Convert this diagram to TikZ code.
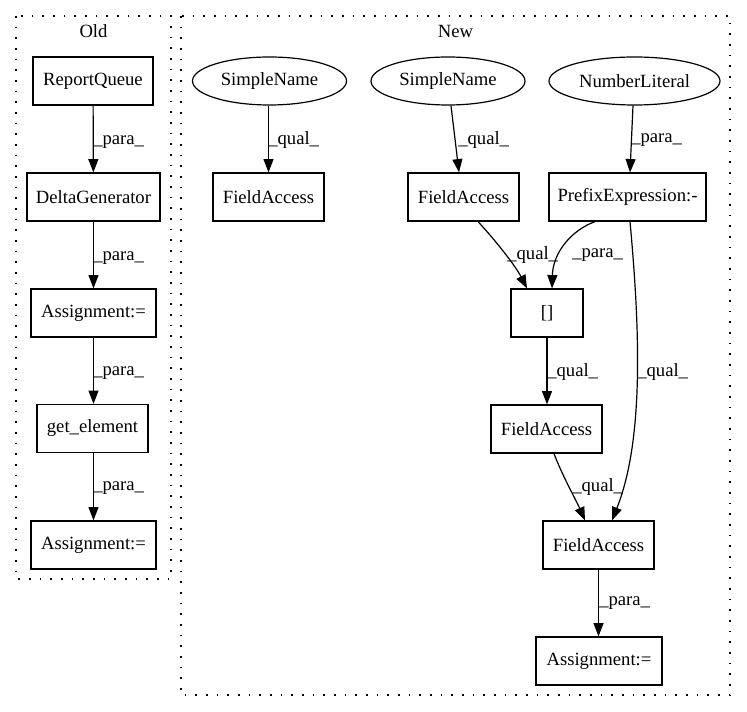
\documentclass[tikz,border=0pt]{standalone}
\usepackage{fontspec}
\setmainfont{Liberation Serif}
\usetikzlibrary{shapes.geometric,arrows.meta,calc}
\begin{document}
\begin{tikzpicture}[x=0.75pt,y=-0.75pt,
  txt/.style={font=\fontsize{14}{16}\selectfont},
  box/.style={txt, draw, line width=0.9pt, rectangle, minimum height=36pt, inner sep=0pt},
  oval/.style={txt, draw, line width=0.9pt, ellipse, minimum height=36pt, inner sep=0pt},
  lbl/.style={txt, anchor=west, inner sep=0pt},
  conn/.style={line width=0.9pt, -{Triangle[length=10pt,width=7.5pt]}},
  cluster/.style={line width=1pt, dash pattern=on 1.3pt off 6.7pt}]
\useasboundingbox (0,0) rectangle (747,712);
% clusters
\draw[cluster] (16,16) rectangle (171,579);
\draw[cluster] (181,16) rectangle (730,695);
\node[txt] (oldt) at (93.5,31) {Old};
\node[txt] (newt) at (455.5,31) {New};
% Old nodes
\node[box, minimum width=90pt] (rq) at (93,81) {ReportQueue};
\node[box, minimum width=99.75pt] (dg) at (93.5,197) {DeltaGenerator};
\node[box, minimum width=93.75pt] (a1) at (93.5,313) {Assignment:=};
\node[box, minimum width=83.25pt] (ge) at (92.5,428.5) {get\_element};
\node[box, minimum width=93.75pt] (a2) at (93.5,545) {Assignment:=};
% New nodes
\node[oval, minimum width=115.5pt] (sn1) at (269.5,81) {SimpleName};
\node[box, minimum width=83.25pt] (fa1) at (268.5,197) {FieldAccess};
\node[oval, minimum width=115.5pt] (sn2) at (448,81) {SimpleName};
\node[box, minimum width=83.25pt] (fa2) at (463.5,197) {FieldAccess};
\node[oval, minimum width=128.25pt] (nl) at (634.5,81) {NumberLiteral};
\node[box, minimum width=117.75pt] (pe) at (627.5,197) {PrefixExpression:-};
\node[box, minimum width=54pt] (br) at (547,313) {[]};
\node[box, minimum width=83.25pt] (fa3) at (546.5,429) {FieldAccess};
\node[box, minimum width=83.25pt] (fa4) at (598.5,545) {FieldAccess};
\node[box, minimum width=94.5pt] (as) at (599,661) {Assignment:=};
% Old edges
\draw[conn] (rq) -- (dg);
\draw[conn] (dg) -- (a1);
\draw[conn] (a1) -- (ge.north -| a1.south);
\draw[conn] (ge.south -| a2.north) -- (a2);
\node[lbl] (l1) at (93,142) {\_para\_};
\node[lbl] (l2) at (93,258) {\_para\_};
\node[lbl] (l3) at (93,373) {\_para\_};
\node[lbl] (l4) at (93,488) {\_para\_};
% New edges
\draw[conn] (sn1.south -| fa1.north) -- (fa1);
\draw[conn] ($(sn2.south)+(3,0)$) -- ($(fa2.north)+(-4.5,0)$);
\draw[conn] ($(nl.south)+(-1.5,0)$) -- ($(pe.north)+(2.5,0)$);
\draw[conn] ($(fa2.south)+(14.5,0)$) .. controls (495,240) and (515,265) .. ($(br.north)+(-20,0)$);
\draw[conn] ($(pe.south)+(-32.5,0)$) .. controls (572,230) and (553,252) .. ($(br.north)+(5,0)$);
\draw[conn] ($(pe.south)+(2.5,0)$) .. controls (640,330) and (644,440) .. ($(fa4.north)+(13.5,0)$);
\draw[conn] (br.south -| br.north) -- (fa3.north -| br.south);
\draw[conn] ($(fa3.south)+(7.5,0)$) .. controls (562,475) and (576,500) .. ($(fa4.north)+(-13.5,0)$);
\draw[conn] (fa4.south -| fa4.north) -- (as.north -| fa4.south);
\node[lbl] (q1) at (268,140) {\_qual\_};
\node[lbl] (q2) at (458,140) {\_qual\_};
\node[lbl] (p1) at (631,140) {\_para\_};
\node[lbl] (q3) at (507,255) {\_qual\_};
\node[lbl] (p2) at (572,255) {\_para\_};
\node[lbl] (q4) at (547,372) {\_qual\_};
\node[lbl] (q5) at (637,372) {\_qual\_};
\node[lbl] (q6) at (572,487) {\_qual\_};
\node[lbl] (p3) at (599,603) {\_para\_};
\end{tikzpicture}
\end{document}
